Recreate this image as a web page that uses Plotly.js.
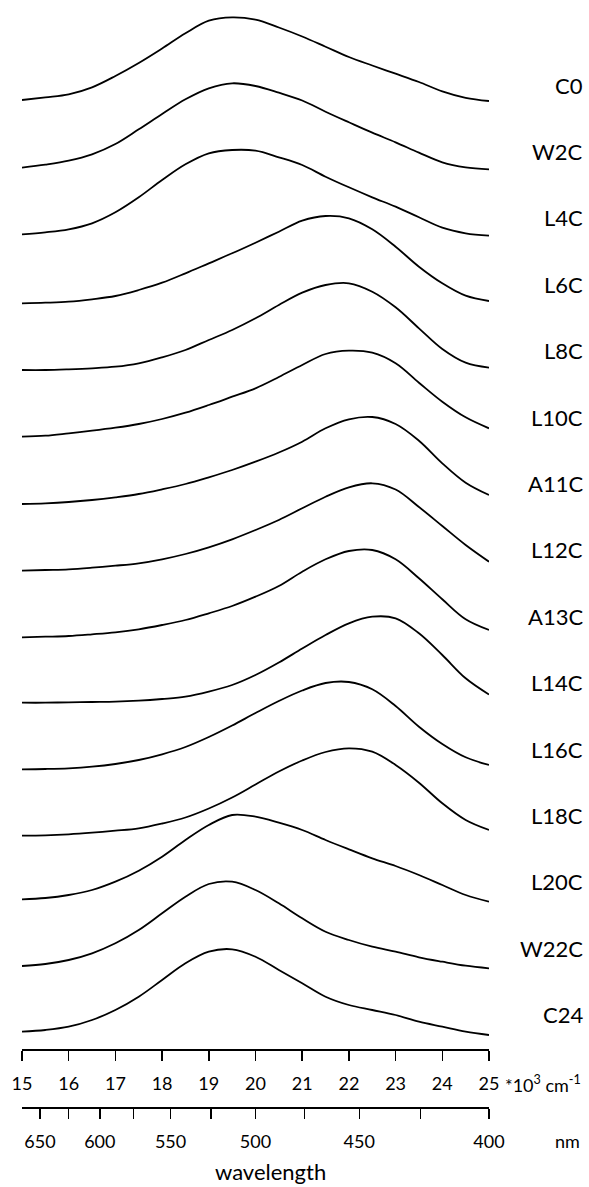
<!DOCTYPE html>
<html>
<head>
<meta charset="utf-8">
<script src="https://cdn.plot.ly/plotly-3.0.1.min.js"></script>
<style>
  html, body { margin: 0; padding: 0; background: #ffffff; }
  #chart { width: 589px; height: 1187px; }
</style>
</head>
<body>
<div id="chart"></div>
<script>
// Wavenumber grid, in 10^3 cm^-1
const wavenumber = [15, 15.5, 16, 16.5, 17, 17.5, 18, 18.5, 19, 19.5, 20,
                    20.5, 21, 21.5, 22, 22.5, 23, 23.5, 24, 24.5, 25];

// Sample names, top to bottom
const sampleNames = ['C0', 'W2C', 'L4C', 'L6C', 'L8C', 'L10C', 'A11C', 'L12C',
                     'A13C', 'L14C', 'L16C', 'L18C', 'L20C', 'W22C', 'C24'];

// Absorbance of each sample (arbitrary units) on the wavenumber grid
const C0   = [0, 2.7, 5.7, 12.7, 24, 37, 51.5, 66.7, 79.3, 82.7, 80.3, 72.5, 63.5, 53.3, 43, 34.5, 26.3, 18, 8.7, 2.2, -1];
const W2C  = [-1.2, 1.8, 5.8, 12.2, 22.5, 37.2, 52.5, 67.2, 78.2, 83.2, 80.5, 73.8, 66, 54.8, 44.2, 33.8, 24.2, 13.8, 4.2, -0.8, -2.8];
const L4C  = [-1.3, 0.7, 3.7, 9.7, 20.7, 35.7, 53, 68.7, 79.7, 83, 82.3, 75.7, 68, 56.3, 45.7, 35.7, 26.3, 15.7, 5.3, -0.3, -2.7];
const L6C  = [-3.8, -3.2, -2.2, 0.2, 3.5, 9.5, 16.8, 26.2, 36.2, 46.2, 56.8, 67.8, 78.8, 83.5, 81.2, 70.2, 52.8, 32.8, 16.2, 3.8, -1.5];
const L8C  = [-4, -4, -3.3, -2.3, -0.7, 2.7, 8.7, 16, 26, 36, 47.7, 61, 73.3, 81, 82.7, 74.3, 58.7, 37.7, 17, 3.3, -1.7];
const L10C = [-4.2, -3.2, -0.8, 1.8, 4.8, 8.5, 13.5, 19.8, 27.5, 35.8, 44.2, 55.5, 67.5, 78.5, 81.8, 79.8, 69.2, 49.8, 30.8, 15.2, 4.2];
const A11C = [-5, -4.3, -3, -1, 1.7, 5, 9.7, 15, 21.7, 29, 37.3, 46.5, 57.3, 70.7, 79.7, 82, 75, 58.3, 35.7, 16.3, 4];
const L12C = [-5.2, -4.5, -3.8, -2.2, -0.2, 2.2, 6.2, 11.5, 18.2, 26.2, 35.5, 45.5, 57.2, 68.8, 78.2, 82.2, 76, 58.5, 39.5, 20.5, 3.8];
const A13C = [-5.3, -4.7, -4, -2.3, -0.3, 2.7, 7, 12, 18.7, 26, 35.3, 46, 60.3, 72.7, 81, 82, 72.7, 53.7, 32.7, 12.7, 2];
const L14C = [-4.2, -4.2, -3.8, -3.5, -3.2, -2.2, -0.5, 1.8, 6.8, 13.5, 23.5, 36, 50, 63.5, 75.2, 81.8, 80.2, 65.2, 43.5, 20.2, 4];
const L16C = [-4.3, -4, -3.3, -1.7, 1, 5, 10.7, 18, 28, 39.5, 52, 64, 74.5, 82, 83, 75.7, 59, 38.3, 21, 7.7, 0];
const L18C = [-4.2, -3.8, -2.8, -1.2, 0.8, 3.2, 8, 14, 23, 34, 47, 60, 71, 79.5, 83.2, 79.8, 66.5, 48.8, 28.2, 11.5, 1.5];
const L20C = [-1.3, 0, 3, 8, 16.3, 27.3, 41.3, 58, 73, 83, 81.3, 75.3, 68, 58, 48.7, 39.7, 32, 23, 13, 3, -3.7];
const W22C = [-1.5, 0.5, 4.5, 11.2, 21.2, 34.5, 51.2, 67.8, 80.5, 82.8, 74.5, 61.2, 46.2, 32.8, 24.5, 17.8, 12.8, 7.2, 2.8, -1.2, -3.8];
const C24  = [-0.7, 1, 4.3, 11, 21, 34.3, 51, 67.7, 79.3, 81.7, 74.3, 61, 47.7, 34.3, 26, 21, 16, 9.3, 4.3, -0.7, -4];

// Wavelength scale, in nm
const nmLabelled   = [650, 600, 550, 500, 450, 400];
const nmUnlabelled = [625, 575, 525, 475, 425];

const spectra = [C0, W2C, L4C, L6C, L8C, L10C, A11C, L12C, A13C, L14C, L16C, L18C, L20C, W22C, C24];

// Vertical spacing between stacked spectra
const stackStep = 66.5;
const FONT = 'Lato, "Open Sans", sans-serif';
const toWavenumber = nm => 1e4 / nm;   // nm -> 10^3 cm^-1

// The bottom spectrum is drawn through the wavelength axis (same range as x),
// so that axis is laid out together with the wavenumber axis.
const traces = spectra.map((vals, i) => ({
  type: 'scatter',
  mode: 'lines',
  name: sampleNames[i],
  x: wavenumber,
  y: vals.map(v => v - i * stackStep),
  xaxis: i === spectra.length - 1 ? 'x2' : 'x',
  yaxis: 'y',
  line: { color: '#000000', width: 1.8, shape: 'spline', smoothing: 1 },
  hoverinfo: 'skip'
}));

// Plot area: 0..1127 px tall (margin.b = 60); spectra sit above the first axis
const plotH = 1127;
const axisY = 1049;   // pixel row of the wavenumber axis
const nmAxisY = 1107; // pixel row of the wavelength axis
const py = px => (plotH - px) / plotH;   // pixel row -> paper fraction

const labelAnnotations = sampleNames.map((name, i) => ({
  xref: 'paper', yref: 'y',
  x: 1.2056, y: 15 - i * 66.4,
  xanchor: 'right', yanchor: 'middle',
  text: name, showarrow: false,
  font: { family: FONT, size: 22, color: '#000000' }
}));

const axisCommon = {
  range: [15, 25],
  showline: true, linecolor: '#000000', linewidth: 1.5,
  ticks: 'outside', ticklen: 10, tickwidth: 1.5, tickcolor: '#000000',
  showgrid: false, zeroline: false,
  tickfont: { family: FONT, size: 18, color: '#000000' },
  ticklabelstandoff: 8,
  fixedrange: true
};

const layout = {
  width: 589, height: 1187,
  margin: { l: 22, r: 100, t: 0, b: 60 },
  paper_bgcolor: '#ffffff', plot_bgcolor: '#ffffff',
  showlegend: false,
  xaxis: Object.assign({}, axisCommon, {
    anchor: 'y', side: 'bottom',
    tickmode: 'linear', tick0: 15, dtick: 1
  }),
  xaxis2: Object.assign({}, axisCommon, {
    overlaying: 'x', anchor: 'free', side: 'bottom',
    position: py(nmAxisY),
    tickmode: 'array',
    tickvals: nmLabelled.map(toWavenumber),
    ticktext: nmLabelled.map(String),
    minor: {
      tickmode: 'array',
      tickvals: nmUnlabelled.map(toWavenumber),
      ticks: 'outside', ticklen: 10, tickwidth: 1.5, tickcolor: '#000000',
      showgrid: false
    }
  }),
  yaxis: {
    domain: [py(axisY), 1],
    range: [100 - axisY, 100],
    visible: false, fixedrange: true
  },
  annotations: labelAnnotations.concat([
    {
      xref: 'paper', yref: 'paper', x: 1.03, y: py(1084),
      xanchor: 'left', yanchor: 'middle', showarrow: false,
      text: '*10<sup>3</sup> cm<sup>-1</sup>',
      font: { family: FONT, size: 18, color: '#000000' }
    },
    {
      xref: 'paper', yref: 'paper', x: 1.169, y: py(1141),
      xanchor: 'center', yanchor: 'middle', showarrow: false,
      text: 'nm',
      font: { family: FONT, size: 18, color: '#000000' }
    },
    {
      xref: 'paper', yref: 'paper', x: 0.533, y: py(1171),
      xanchor: 'center', yanchor: 'middle', showarrow: false,
      text: 'wavelength',
      font: { family: FONT, size: 22, color: '#000000' }
    }
  ])
};

Plotly.newPlot('chart', traces, layout, { staticPlot: true, displayModeBar: false })
  .then(gd => {
    // drop the empty placeholder title nodes Plotly leaves in the SVG
    gd.querySelectorAll('text').forEach(t => {
      if (!t.textContent.trim()) t.remove();
    });
  });
</script>
</body>
</html>
